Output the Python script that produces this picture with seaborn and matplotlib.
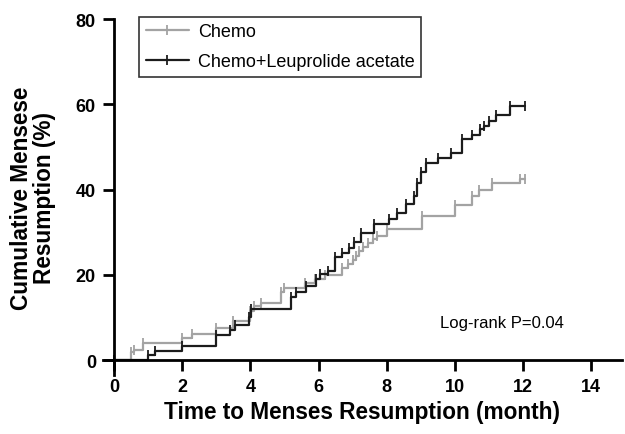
import numpy as np
import pandas as pd
import seaborn as sns
import matplotlib.pyplot as plt

# Data

chemo_time = [0, 0.5, 0.6, 0.85, 2.0, 2.3, 3.0, 3.5, 4.0, 4.1, 4.3, 4.9, 5.0, 5.6, 5.9, 6.2,
              6.7, 6.85, 7.0, 7.1, 7.2, 7.3, 7.45, 7.6, 7.73, 8.0, 9.05, 10.0, 10.5, 10.7,
              11.1, 11.92, 12.07]
chemo_pct = [0, 1.8, 2.4, 4.1, 5.1, 6.2, 7.6, 9.2, 11.5, 12.7, 13.5, 16.0, 17.0, 18.0, 19.0, 20.0,
             21.5, 22.5, 23.5, 24.5, 25.5, 26.5, 27.5, 28.3, 29.1, 30.7, 33.8, 36.3, 38.5, 40.0,
             41.6, 42.4, 42.4]

leup_time = [0, 1.0, 1.2, 2.0, 3.0, 3.4, 3.55, 3.95, 4.03, 5.2, 5.35, 5.63, 5.93, 6.04, 6.27,
             6.49, 6.7, 6.88, 7.03, 7.24, 7.63, 8.07, 8.31, 8.56, 8.8, 8.9, 9.0, 9.14, 9.5,
             9.9, 10.2, 10.5, 10.75, 10.85, 11.0, 11.2, 11.63, 12.07]
leup_pct = [0, 1.2, 2.2, 3.4, 6.0, 7.0, 8.2, 10.2, 12.0, 14.7, 15.9, 17.4, 19.0, 20.1, 20.9,
            24.2, 25.2, 26.4, 27.6, 29.9, 31.9, 33.0, 34.6, 36.5, 38.6, 41.6, 44.0, 46.3, 47.5,
            48.6, 51.8, 52.9, 54.1, 54.9, 56.0, 57.6, 59.7, 59.7]

group_names = ['Chemo', 'Chemo+Leuprolide acetate']
group_colors = ['#a3a3a3', '#1c1c1c']
x_ticks = [0, 2, 4, 6, 8, 10, 12, 14]
y_ticks = [0, 20, 40, 60, 80]

df = pd.concat([
    pd.DataFrame({'time': chemo_time, 'pct': chemo_pct, 'group': group_names[0]}),
    pd.DataFrame({'time': leup_time, 'pct': leup_pct, 'group': group_names[1]}),
])

sns.set_style('ticks')
plt.rcParams['font.family'] = ['Liberation Sans', 'DejaVu Sans']
plt.rcParams['text.color'] = 'black'
plt.rcParams['axes.labelcolor'] = 'black'

fig = plt.figure(figsize=(6.25, 4.35), dpi=100)
ax = fig.add_axes([0.165, 0.1356, 0.83, 0.8184])

for name, color in zip(group_names, group_colors):
    sub = df[df['group'] == name]
    sns.lineplot(data=sub, x='time', y='pct', ax=ax, color=color, lw=1.6,
                 drawstyle='steps-post', estimator=None, sort=False,
                 marker='|', markersize=7, markeredgewidth=1.3,
                 markeredgecolor=color, label=name)

ax.set_xlim(-0.32, 14.9)
ax.set_ylim(-3.5, 80)
ax.spines['left'].set_position(('data', 0))
ax.spines['bottom'].set_position(('data', 0))
ax.spines['right'].set_visible(False)
ax.spines['top'].set_visible(False)
for s in ['left', 'bottom']:
    ax.spines[s].set_linewidth(2.0)
    ax.spines[s].set_color('black')

ax.set_xticks(x_ticks)
ax.set_yticks(y_ticks)
ax.tick_params(axis='both', direction='out', length=8, width=2, colors='black',
               labelsize=13, pad=5)
for lbl in ax.get_xticklabels() + ax.get_yticklabels():
    lbl.set_fontweight('bold')

ax.set_xlabel('Time to Menses Resumption (month)', fontsize=16.3, fontweight='bold')
ax.set_ylabel('Cumulative Mensese\nResumption (%)', fontsize=16.3, fontweight='bold',
              linespacing=1.0)
ax.xaxis.set_label_coords(0.5, -0.07)
ax.yaxis.set_label_coords(-0.09, 0.5)

leg = ax.legend(loc='upper left', bbox_to_anchor=(0.07, 1.007), frameon=True, fancybox=False,
                fontsize=13, handlelength=2.4, borderpad=0.35, labelspacing=0.75,
                handletextpad=0.5, borderaxespad=0.0)
leg.get_frame().set_edgecolor('black')
leg.get_frame().set_linewidth(1.2)

ax.text(9.55, 8.7, 'Log-rank P=0.04', fontsize=12, ha='left', va='center')

fig.savefig('out.png', dpi=100)
